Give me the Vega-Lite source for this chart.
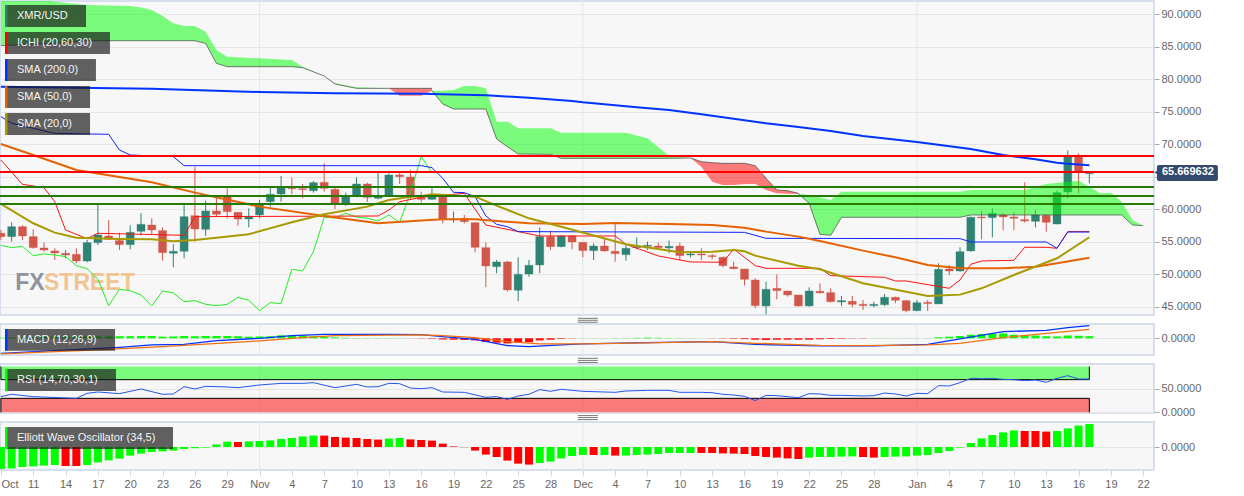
{"$schema":"https://vega.github.io/schema/vega-lite/v6.json","background":"white","padding":{"left":-4,"top":-1,"right":0,"bottom":0},"spacing":9,"bounds":"flush","config":{"font":"Liberation Sans","view":{"fill":"#f7f7f7","stroke":"#ccd6eb","strokeWidth":1.5},"axis":{"title":null,"domain":false,"gridColor":"#e6e6e6","gridWidth":1,"tickColor":"#aaaaaa","tickSize":5,"labelColor":"#666666","labelFontSize":11,"labelPadding":2,"labelOverlap":false,"labelBound":false,"labelFlush":false},"axisX":{"grid":false},"axisY":{"orient":"right","grid":true}},
"datasets":{
"months":[{"date":"2019-11-01"},{"date":"2019-12-01"},{"date":"2020-01-01"}],
"candles":[
{"date":"2019-10-08","open":56.31,"high":56.82,"low":55.29,"close":55.8},
{"date":"2019-10-09","open":55.8,"high":58.0,"low":55.03,"close":57.33},
{"date":"2019-10-10","open":57.33,"high":57.54,"low":55.29,"close":55.9},
{"date":"2019-10-11","open":55.8,"high":56.92,"low":53.96,"close":54.11},
{"date":"2019-10-12","open":54.06,"high":54.88,"low":53.49,"close":53.75},
{"date":"2019-10-13","open":53.6,"high":54.01,"low":52.21,"close":53.29},
{"date":"2019-10-14","open":53.24,"high":53.75,"low":52.47,"close":52.98},
{"date":"2019-10-15","open":53.08,"high":54.01,"low":51.7,"close":52.06},
{"date":"2019-10-16","open":52.06,"high":55.29,"low":51.86,"close":54.88},
{"date":"2019-10-17","open":54.88,"high":60.77,"low":54.52,"close":56.05},
{"date":"2019-10-18","open":55.9,"high":58.36,"low":55.29,"close":55.39},
{"date":"2019-10-19","open":55.19,"high":56.41,"low":53.75,"close":54.57},
{"date":"2019-10-20","open":54.57,"high":57.54,"low":53.85,"close":56.46},
{"date":"2019-10-21","open":56.62,"high":59.38,"low":56.0,"close":57.69},
{"date":"2019-10-22","open":57.59,"high":58.61,"low":56.21,"close":56.82},
{"date":"2019-10-23","open":56.72,"high":57.23,"low":52.11,"close":53.34},
{"date":"2019-10-24","open":53.24,"high":54.62,"low":51.09,"close":53.55},
{"date":"2019-10-25","open":53.55,"high":60.66,"low":52.47,"close":58.87},
{"date":"2019-10-26","open":59.02,"high":66.55,"low":55.03,"close":56.97},
{"date":"2019-10-27","open":56.92,"high":61.33,"low":55.9,"close":59.74},
{"date":"2019-10-28","open":59.74,"high":61.94,"low":58.87,"close":59.23},
{"date":"2019-10-29","open":61.94,"high":63.22,"low":58.61,"close":59.64},
{"date":"2019-10-30","open":59.54,"high":59.54,"low":57.49,"close":58.51},
{"date":"2019-10-31","open":58.51,"high":60.15,"low":57.23,"close":58.92},
{"date":"2019-11-01","open":59.13,"high":61.43,"low":58.61,"close":60.66},
{"date":"2019-11-02","open":61.17,"high":63.48,"low":60.41,"close":62.3},
{"date":"2019-11-03","open":62.35,"high":65.12,"low":61.17,"close":63.48},
{"date":"2019-11-04","open":63.32,"high":64.86,"low":62.3,"close":63.17},
{"date":"2019-11-05","open":63.17,"high":63.89,"low":61.69,"close":63.02},
{"date":"2019-11-06","open":62.86,"high":64.35,"low":62.56,"close":64.09},
{"date":"2019-11-07","open":64.14,"high":67.06,"low":62.71,"close":63.22},
{"date":"2019-11-08","open":63.07,"high":63.48,"low":60.05,"close":60.92},
{"date":"2019-11-09","open":60.92,"high":62.56,"low":60.56,"close":61.94},
{"date":"2019-11-10","open":62.1,"high":64.91,"low":61.84,"close":63.89},
{"date":"2019-11-11","open":63.89,"high":64.09,"low":61.12,"close":61.84},
{"date":"2019-11-12","open":61.69,"high":65.63,"low":61.53,"close":61.94},
{"date":"2019-11-13","open":62.15,"high":65.53,"low":61.94,"close":65.27},
{"date":"2019-11-14","open":65.27,"high":65.68,"low":63.89,"close":65.01},
{"date":"2019-11-15","open":64.96,"high":66.04,"low":61.43,"close":61.94},
{"date":"2019-11-16","open":61.79,"high":62.71,"low":61.07,"close":61.53},
{"date":"2019-11-17","open":61.53,"high":63.22,"low":61.43,"close":61.94},
{"date":"2019-11-18","open":61.94,"high":61.94,"low":57.85,"close":58.46},
{"date":"2019-11-19","open":58.36,"high":59.64,"low":57.95,"close":58.51},
{"date":"2019-11-20","open":58.61,"high":59.13,"low":57.85,"close":58.1},
{"date":"2019-11-21","open":57.95,"high":57.95,"low":53.39,"close":54.16},
{"date":"2019-11-22","open":54.11,"high":54.93,"low":48.02,"close":51.29},
{"date":"2019-11-23","open":51.19,"high":52.21,"low":50.17,"close":51.91},
{"date":"2019-11-24","open":51.91,"high":52.06,"low":47.35,"close":47.61},
{"date":"2019-11-25","open":47.56,"high":52.62,"low":45.87,"close":50.01},
{"date":"2019-11-26","open":50.06,"high":52.21,"low":49.65,"close":51.39},
{"date":"2019-11-27","open":51.45,"high":57.23,"low":50.17,"close":55.8},
{"date":"2019-11-28","open":55.8,"high":56.72,"low":53.75,"close":54.26},
{"date":"2019-11-29","open":54.26,"high":56.05,"low":54.16,"close":55.9},
{"date":"2019-11-30","open":55.9,"high":56.05,"low":53.85,"close":54.98},
{"date":"2019-12-01","open":54.93,"high":54.93,"low":52.62,"close":53.65},
{"date":"2019-12-02","open":53.65,"high":54.77,"low":52.21,"close":54.36},
{"date":"2019-12-03","open":54.36,"high":55.54,"low":53.49,"close":53.6},
{"date":"2019-12-04","open":53.55,"high":57.85,"low":51.96,"close":53.19},
{"date":"2019-12-05","open":53.03,"high":54.52,"low":52.11,"close":54.01},
{"date":"2019-12-06","open":54.11,"high":55.7,"low":53.85,"close":54.26},
{"date":"2019-12-07","open":54.31,"high":55.03,"low":53.75,"close":54.47},
{"date":"2019-12-08","open":54.36,"high":54.88,"low":53.75,"close":54.11},
{"date":"2019-12-09","open":54.06,"high":55.19,"low":53.24,"close":54.31},
{"date":"2019-12-10","open":54.36,"high":54.88,"low":52.21,"close":52.88},
{"date":"2019-12-11","open":52.98,"high":53.49,"low":52.62,"close":53.14},
{"date":"2019-12-12","open":53.14,"high":54.01,"low":52.21,"close":52.98},
{"date":"2019-12-13","open":52.88,"high":53.14,"low":52.32,"close":52.73},
{"date":"2019-12-14","open":52.62,"high":52.73,"low":51.09,"close":51.34},
{"date":"2019-12-15","open":51.14,"high":51.96,"low":50.78,"close":50.88},
{"date":"2019-12-16","open":50.83,"high":50.83,"low":48.32,"close":49.24},
{"date":"2019-12-17","open":49.14,"high":49.4,"low":44.79,"close":45.2},
{"date":"2019-12-18","open":45.15,"high":48.89,"low":43.87,"close":47.71},
{"date":"2019-12-19","open":47.86,"high":50.01,"low":46.17,"close":47.5},
{"date":"2019-12-20","open":47.45,"high":47.45,"low":46.58,"close":46.84},
{"date":"2019-12-21","open":46.84,"high":46.84,"low":45.05,"close":45.15},
{"date":"2019-12-22","open":45.15,"high":48.02,"low":45.05,"close":47.45},
{"date":"2019-12-23","open":47.4,"high":48.63,"low":47.09,"close":47.15},
{"date":"2019-12-24","open":47.2,"high":47.86,"low":45.66,"close":45.81},
{"date":"2019-12-25","open":45.76,"high":46.68,"low":45.15,"close":45.97},
{"date":"2019-12-26","open":45.87,"high":46.68,"low":44.94,"close":45.4},
{"date":"2019-12-27","open":45.4,"high":46.07,"low":44.53,"close":45.2},
{"date":"2019-12-28","open":45.2,"high":45.81,"low":44.94,"close":45.4},
{"date":"2019-12-29","open":45.35,"high":46.99,"low":45.15,"close":46.48},
{"date":"2019-12-30","open":46.48,"high":46.58,"low":45.56,"close":46.02},
{"date":"2019-12-31","open":45.97,"high":46.07,"low":44.18,"close":44.43},
{"date":"2020-01-01","open":44.43,"high":46.07,"low":44.33,"close":45.66},
{"date":"2020-01-02","open":45.71,"high":46.07,"low":44.38,"close":45.51},
{"date":"2020-01-03","open":45.46,"high":51.7,"low":45.46,"close":50.78},
{"date":"2020-01-04","open":50.83,"high":51.45,"low":49.86,"close":50.52},
{"date":"2020-01-05","open":50.52,"high":54.16,"low":50.42,"close":53.49},
{"date":"2020-01-06","open":53.6,"high":58.87,"low":53.49,"close":58.77},
{"date":"2020-01-07","open":58.82,"high":59.79,"low":55.39,"close":58.67},
{"date":"2020-01-08","open":58.72,"high":60.15,"low":55.7,"close":59.38},
{"date":"2020-01-09","open":59.13,"high":59.38,"low":56.82,"close":58.82},
{"date":"2020-01-10","open":58.82,"high":59.59,"low":56.82,"close":58.62},
{"date":"2020-01-11","open":58.41,"high":64.14,"low":57.95,"close":58.2},
{"date":"2020-01-12","open":58.15,"high":59.89,"low":57.23,"close":59.13},
{"date":"2020-01-13","open":59.08,"high":59.28,"low":56.57,"close":58.0},
{"date":"2020-01-14","open":57.74,"high":62.86,"low":57.69,"close":62.56},
{"date":"2020-01-15","open":62.66,"high":69.06,"low":61.69,"close":68.09},
{"date":"2020-01-16","open":68.19,"high":68.6,"low":62.45,"close":65.63},
{"date":"2020-01-17","open":65.47,"high":65.73,"low":63.99,"close":65.67}],
"kumo":[
{"date":"2019-10-08","spanA":93.5,"spanB":85.14,"kumo":"bull","segment":1},
{"date":"2019-10-13","spanA":91.89,"spanB":85.5,"kumo":"bull","segment":1},
{"date":"2019-10-16","spanA":91.38,"spanB":85.9,"kumo":"bull","segment":1},
{"date":"2019-10-20","spanA":91.23,"spanB":85.9,"kumo":"bull","segment":1},
{"date":"2019-10-21","spanA":91.02,"spanB":85.9,"kumo":"bull","segment":1},
{"date":"2019-10-22","spanA":90.61,"spanB":85.9,"kumo":"bull","segment":1},
{"date":"2019-10-23","spanA":89.69,"spanB":85.9,"kumo":"bull","segment":1},
{"date":"2019-10-24","spanA":88.57,"spanB":85.9,"kumo":"bull","segment":1},
{"date":"2019-10-25","spanA":88.16,"spanB":85.9,"kumo":"bull","segment":1},
{"date":"2019-10-26","spanA":88.16,"spanB":85.9,"kumo":"bull","segment":1},
{"date":"2019-10-27","spanA":87.29,"spanB":85.49,"kumo":"bull","segment":1},
{"date":"2019-10-28","spanA":84.47,"spanB":82.42,"kumo":"bull","segment":1},
{"date":"2019-10-29","spanA":83.45,"spanB":81.91,"kumo":"bull","segment":1},
{"date":"2019-11-04","spanA":82.93,"spanB":81.91,"kumo":"bull","segment":1},
{"date":"2019-11-05","spanA":81.9,"spanB":81.76,"kumo":"bull","segment":1},
{"date":"2019-11-07","spanA":80.48,"spanB":80.48,"kumo":"bull","segment":1},
{"date":"2019-11-08","spanA":79.35,"spanB":79.25,"kumo":"bull","segment":1},
{"date":"2019-11-10","spanA":78.74,"spanB":78.58,"kumo":"bull","segment":1},
{"date":"2019-11-13","spanA":78.58,"spanB":78.58,"kumo":"bull","segment":1},
{"date":"2019-11-13","spanA":78.58,"spanB":78.58,"kumo":"bear","segment":2},
{"date":"2019-11-14","spanA":77.46,"spanB":78.58,"kumo":"bear","segment":2},
{"date":"2019-11-16","spanA":77.46,"spanB":78.58,"kumo":"bear","segment":2},
{"date":"2019-11-17","spanA":78.22,"spanB":78.58,"kumo":"bear","segment":2},
{"date":"2019-11-17","spanA":78.22,"spanB":78.22,"kumo":"bull","segment":3},
{"date":"2019-11-18","spanA":78.22,"spanB":76.18,"kumo":"bull","segment":3},
{"date":"2019-11-19","spanA":78.33,"spanB":75.41,"kumo":"bull","segment":3},
{"date":"2019-11-20","spanA":78.94,"spanB":75.41,"kumo":"bull","segment":3},
{"date":"2019-11-21","spanA":78.94,"spanB":75.41,"kumo":"bull","segment":3},
{"date":"2019-11-22","spanA":78.58,"spanB":75.41,"kumo":"bull","segment":3},
{"date":"2019-11-23","spanA":73.46,"spanB":70.8,"kumo":"bull","segment":3},
{"date":"2019-11-24","spanA":73.46,"spanB":69.62,"kumo":"bull","segment":3},
{"date":"2019-11-25","spanA":72.44,"spanB":68.5,"kumo":"bull","segment":3},
{"date":"2019-11-28","spanA":72.44,"spanB":68.44,"kumo":"bull","segment":3},
{"date":"2019-11-29","spanA":71.77,"spanB":67.83,"kumo":"bull","segment":3},
{"date":"2019-12-05","spanA":71.77,"spanB":67.83,"kumo":"bull","segment":3},
{"date":"2019-12-07","spanA":70.9,"spanB":67.83,"kumo":"bull","segment":3},
{"date":"2019-12-09","spanA":68.19,"spanB":67.83,"kumo":"bull","segment":3},
{"date":"2019-12-11","spanA":67.88,"spanB":67.88,"kumo":"bull","segment":3},
{"date":"2019-12-11","spanA":67.88,"spanB":67.88,"kumo":"bear","segment":4},
{"date":"2019-12-12","spanA":66.55,"spanB":67.32,"kumo":"bear","segment":4},
{"date":"2019-12-13","spanA":64.24,"spanB":67.16,"kumo":"bear","segment":4},
{"date":"2019-12-14","spanA":63.73,"spanB":67.06,"kumo":"bear","segment":4},
{"date":"2019-12-15","spanA":63.73,"spanB":67.06,"kumo":"bear","segment":4},
{"date":"2019-12-16","spanA":63.89,"spanB":67.06,"kumo":"bear","segment":4},
{"date":"2019-12-17","spanA":63.89,"spanB":66.7,"kumo":"bear","segment":4},
{"date":"2019-12-18","spanA":62.97,"spanB":64.76,"kumo":"bear","segment":4},
{"date":"2019-12-19","spanA":62.45,"spanB":62.97,"kumo":"bear","segment":4},
{"date":"2019-12-20","spanA":62.4,"spanB":62.86,"kumo":"bear","segment":4},
{"date":"2019-12-21","spanA":62.35,"spanB":62.45,"kumo":"bear","segment":4},
{"date":"2019-12-21","spanA":62.4,"spanB":62.4,"kumo":"bull","segment":5},
{"date":"2019-12-22","spanA":62.2,"spanB":60.92,"kumo":"bull","segment":5},
{"date":"2019-12-23","spanA":61.84,"spanB":56.16,"kumo":"bull","segment":5},
{"date":"2019-12-24","spanA":61.43,"spanB":56.0,"kumo":"bull","segment":5},
{"date":"2019-12-25","spanA":62.71,"spanB":58.77,"kumo":"bull","segment":5},
{"date":"2020-01-05","spanA":62.71,"spanB":58.77,"kumo":"bull","segment":5},
{"date":"2020-01-06","spanA":62.97,"spanB":59.13,"kumo":"bull","segment":5},
{"date":"2020-01-11","spanA":62.97,"spanB":59.13,"kumo":"bull","segment":5},
{"date":"2020-01-13","spanA":63.89,"spanB":59.13,"kumo":"bull","segment":5},
{"date":"2020-01-15","spanA":64.25,"spanB":59.13,"kumo":"bull","segment":5},
{"date":"2020-01-16","spanA":64.4,"spanB":59.13,"kumo":"bull","segment":5},
{"date":"2020-01-17","spanA":63.48,"spanB":59.13,"kumo":"bull","segment":5},
{"date":"2020-01-18","spanA":62.45,"spanB":59.13,"kumo":"bull","segment":5},
{"date":"2020-01-19","spanA":62.56,"spanB":59.13,"kumo":"bull","segment":5},
{"date":"2020-01-20","spanA":61.17,"spanB":59.13,"kumo":"bull","segment":5},
{"date":"2020-01-21","spanA":58.36,"spanB":57.59,"kumo":"bull","segment":5},
{"date":"2020-01-22","spanA":57.49,"spanB":57.49,"kumo":"bull","segment":5}],
"sma200":[{"date":"2019-10-08","value":78.84},{"date":"2019-10-22","value":78.53},{"date":"2019-11-01","value":78.02},{"date":"2019-11-08","value":77.81},{"date":"2019-11-16","value":77.76},{"date":"2019-11-22","value":77.51},{"date":"2019-11-26","value":77.15},{"date":"2019-11-30","value":76.64},{"date":"2019-12-01","value":76.43},{"date":"2019-12-06","value":75.66},{"date":"2019-12-09","value":75.25},{"date":"2019-12-12","value":74.59},{"date":"2019-12-15","value":73.92},{"date":"2019-12-18","value":73.21},{"date":"2019-12-21","value":72.64},{"date":"2019-12-24","value":72.03},{"date":"2019-12-27","value":71.26},{"date":"2020-01-01","value":70.34},{"date":"2020-01-06","value":69.26},{"date":"2020-01-09","value":68.34},{"date":"2020-01-12","value":67.68},{"date":"2020-01-14","value":67.16},{"date":"2020-01-15","value":67.01},{"date":"2020-01-17","value":66.75}],
"sma50":[{"date":"2019-10-08","value":70.03},{"date":"2019-10-11","value":68.34},{"date":"2019-10-15","value":66.04},{"date":"2019-10-22","value":64.14},{"date":"2019-10-26","value":62.56},{"date":"2019-11-01","value":60.41},{"date":"2019-11-07","value":58.97},{"date":"2019-11-12","value":57.85},{"date":"2019-11-16","value":58.26},{"date":"2019-11-18","value":58.46},{"date":"2019-11-21","value":58.46},{"date":"2019-11-26","value":57.85},{"date":"2019-12-01","value":57.74},{"date":"2019-12-04","value":57.9},{"date":"2019-12-09","value":57.74},{"date":"2019-12-13","value":57.59},{"date":"2019-12-16","value":57.18},{"date":"2019-12-18","value":56.57},{"date":"2019-12-21","value":55.8},{"date":"2019-12-23","value":55.13},{"date":"2019-12-27","value":53.65},{"date":"2019-12-30","value":52.62},{"date":"2020-01-02","value":51.45},{"date":"2020-01-05","value":50.93},{"date":"2020-01-09","value":50.93},{"date":"2020-01-12","value":51.19},{"date":"2020-01-14","value":51.7},{"date":"2020-01-17","value":52.57}],
"sma20":[{"date":"2019-10-08","value":60.82},{"date":"2019-10-11","value":57.85},{"date":"2019-10-13","value":56.41},{"date":"2019-10-15","value":55.64},{"date":"2019-10-19","value":55.44},{"date":"2019-10-22","value":55.39},{"date":"2019-10-24","value":55.08},{"date":"2019-10-26","value":55.29},{"date":"2019-10-28","value":55.64},{"date":"2019-10-31","value":56.16},{"date":"2019-11-04","value":58.0},{"date":"2019-11-07","value":59.23},{"date":"2019-11-11","value":60.41},{"date":"2019-11-13","value":61.43},{"date":"2019-11-15","value":61.94},{"date":"2019-11-16","value":61.99},{"date":"2019-11-17","value":62.3},{"date":"2019-11-21","value":61.94},{"date":"2019-11-23","value":60.56},{"date":"2019-11-26","value":58.61},{"date":"2019-11-29","value":57.33},{"date":"2019-12-05","value":54.62},{"date":"2019-12-10","value":53.39},{"date":"2019-12-13","value":53.49},{"date":"2019-12-15","value":53.75},{"date":"2019-12-16","value":53.55},{"date":"2019-12-17","value":52.88},{"date":"2019-12-21","value":51.34},{"date":"2019-12-23","value":50.78},{"date":"2019-12-27","value":48.63},{"date":"2020-01-02","value":46.68},{"date":"2020-01-05","value":46.89},{"date":"2020-01-07","value":47.86},{"date":"2020-01-10","value":49.91},{"date":"2020-01-14","value":52.47},{"date":"2020-01-17","value":55.7}],
"kijun":[{"date":"2019-10-08","value":74.23},{"date":"2019-10-09","value":73.21},{"date":"2019-10-13","value":71.67},{"date":"2019-10-18","value":71.52},{"date":"2019-10-19","value":69.11},{"date":"2019-10-20","value":68.34},{"date":"2019-10-24","value":68.09},{"date":"2019-10-25","value":66.7},{"date":"2019-11-16","value":66.7},{"date":"2019-11-17","value":66.4},{"date":"2019-11-18","value":64.76},{"date":"2019-11-19","value":62.61},{"date":"2019-11-20","value":62.56},{"date":"2019-11-21","value":61.94},{"date":"2019-11-22","value":58.97},{"date":"2019-11-23","value":57.69},{"date":"2019-11-24","value":57.33},{"date":"2019-11-25","value":56.57},{"date":"2019-12-16","value":56.46},{"date":"2019-12-18","value":55.54},{"date":"2020-01-05","value":55.49},{"date":"2020-01-06","value":54.98},{"date":"2020-01-13","value":54.98},{"date":"2020-01-14","value":54.01},{"date":"2020-01-15","value":56.51},{"date":"2020-01-17","value":56.51}],
"tenkan":[{"date":"2019-10-08","value":67.57},{"date":"2019-10-10","value":63.84},{"date":"2019-10-12","value":63.32},{"date":"2019-10-13","value":61.17},{"date":"2019-10-14","value":56.82},{"date":"2019-10-16","value":55.49},{"date":"2019-10-17","value":56.31},{"date":"2019-10-21","value":56.16},{"date":"2019-10-25","value":56.0},{"date":"2019-10-26","value":58.87},{"date":"2019-11-12","value":58.97},{"date":"2019-11-13","value":59.89},{"date":"2019-11-14","value":61.17},{"date":"2019-11-16","value":61.84},{"date":"2019-11-20","value":62.45},{"date":"2019-11-22","value":57.59},{"date":"2019-11-25","value":56.57},{"date":"2019-11-27","value":55.9},{"date":"2019-12-04","value":55.9},{"date":"2019-12-05","value":54.62},{"date":"2019-12-08","value":52.83},{"date":"2019-12-11","value":51.91},{"date":"2019-12-14","value":51.86},{"date":"2019-12-15","value":53.9},{"date":"2019-12-17","value":51.34},{"date":"2019-12-18","value":50.93},{"date":"2019-12-23","value":50.93},{"date":"2019-12-24","value":49.81},{"date":"2019-12-29","value":49.55},{"date":"2019-12-30","value":48.99},{"date":"2019-12-31","value":48.99},{"date":"2020-01-04","value":47.86},{"date":"2020-01-05","value":49.14},{"date":"2020-01-06","value":51.55},{"date":"2020-01-07","value":52.06},{"date":"2020-01-10","value":52.16},{"date":"2020-01-11","value":54.16},{"date":"2020-01-13","value":54.16},{"date":"2020-01-14","value":54.01},{"date":"2020-01-15","value":56.57},{"date":"2020-01-17","value":56.57}],
"chikou":[{"date":"2019-10-08","value":54.47},{"date":"2019-10-09","value":54.11},{"date":"2019-10-10","value":54.31},{"date":"2019-10-11","value":52.88},{"date":"2019-10-12","value":53.14},{"date":"2019-10-13","value":52.98},{"date":"2019-10-14","value":52.73},{"date":"2019-10-15","value":51.34},{"date":"2019-10-16","value":50.88},{"date":"2019-10-17","value":49.24},{"date":"2019-10-18","value":45.2},{"date":"2019-10-19","value":47.71},{"date":"2019-10-20","value":47.5},{"date":"2019-10-21","value":46.84},{"date":"2019-10-22","value":45.15},{"date":"2019-10-23","value":47.45},{"date":"2019-10-24","value":47.15},{"date":"2019-10-25","value":45.81},{"date":"2019-10-26","value":45.97},{"date":"2019-10-27","value":45.4},{"date":"2019-10-28","value":45.2},{"date":"2019-10-29","value":45.4},{"date":"2019-10-30","value":46.48},{"date":"2019-10-31","value":46.02},{"date":"2019-11-01","value":44.43},{"date":"2019-11-02","value":45.66},{"date":"2019-11-03","value":45.51},{"date":"2019-11-04","value":50.78},{"date":"2019-11-05","value":50.52},{"date":"2019-11-06","value":53.49},{"date":"2019-11-07","value":58.77},{"date":"2019-11-08","value":58.67},{"date":"2019-11-09","value":59.38},{"date":"2019-11-10","value":58.82},{"date":"2019-11-11","value":58.62},{"date":"2019-11-12","value":58.2},{"date":"2019-11-13","value":59.13},{"date":"2019-11-14","value":58.0},{"date":"2019-11-15","value":62.56},{"date":"2019-11-16","value":68.09},{"date":"2019-11-17","value":65.63},{"date":"2019-11-18","value":65.67}],
"levels":[{"level":68.2,"kind":"resistance"},{"level":65.73,"kind":"resistance"},{"level":63.43,"kind":"support"},{"level":62.05,"kind":"support"},{"level":60.81,"kind":"support"}],
"labelsMain":[{"name":"XMR/USD","start":"2019-10-08T09:07:00Z","stripEnd":"2019-10-08T14:38:00Z","end":"2019-10-15T21:36:00Z","top":91.38,"bottom":88.0},{"name":"ICHI (20,60,30)","start":"2019-10-08T09:07:00Z","stripEnd":"2019-10-08T14:38:00Z","end":"2019-10-18T02:53:00Z","top":87.24,"bottom":83.86},{"name":"SMA (200,0)","start":"2019-10-08T09:07:00Z","stripEnd":"2019-10-08T14:38:00Z","end":"2019-10-16T19:41:00Z","top":83.09,"bottom":79.71},{"name":"SMA (50,0)","start":"2019-10-08T09:07:00Z","stripEnd":"2019-10-08T14:38:00Z","end":"2019-10-16T06:29:00Z","top":78.94,"bottom":75.56},{"name":"SMA (20,0)","start":"2019-10-08T09:07:00Z","stripEnd":"2019-10-08T14:38:00Z","end":"2019-10-16T06:29:00Z","top":74.79,"bottom":71.41}],
"labelsMacd":[{"name":"MACD (12,26,9)","start":"2019-10-08T09:07:00Z","stripEnd":"2019-10-08T14:38:00Z","end":"2019-10-18T14:10:00Z","top":4.04,"bottom":-5.39}],
"labelsRsi":[{"name":"RSI (14,70,30,1)","start":"2019-10-08T09:07:00Z","stripEnd":"2019-10-08T14:38:00Z","end":"2019-10-18T16:19:00Z","top":92.86,"bottom":45.71}],
"labelsEwo":[{"name":"Elliott Wave Oscillator (34,5)","start":"2019-10-08T09:07:00Z","stripEnd":"2019-10-08T14:38:00Z","end":"2019-10-23T23:17:00Z","top":10,"bottom":-1}],
"watermark":[{"word":"FX","date":"2019-10-09T08:00:00Z","level":47.6},{"word":"STREET","date":"2019-10-12T00:00:00Z","level":47.6}],
"lastPrice":[{"from":"2020-01-23T06:30:00Z","to":"2020-01-28T22:19:00Z","top":66.8,"bottom":64.35,"price":65.669632}],
"macdLine":[{"date":"2019-10-08","value":-6.52},{"date":"2019-10-19","value":-3.91},{"date":"2019-10-22","value":-2.9},{"date":"2019-10-25","value":-2.61},{"date":"2019-10-28","value":-1.01},{"date":"2019-11-01","value":0},{"date":"2019-11-04","value":1.16},{"date":"2019-11-07","value":1.74},{"date":"2019-11-13","value":1.74},{"date":"2019-11-16","value":1.59},{"date":"2019-11-18","value":0.72},{"date":"2019-11-21","value":-0.43},{"date":"2019-11-24","value":-3.19},{"date":"2019-11-26","value":-3.62},{"date":"2019-11-29","value":-2.9},{"date":"2019-12-01","value":-2.46},{"date":"2019-12-07","value":-1.88},{"date":"2019-12-13","value":-1.45},{"date":"2019-12-17","value":-2.61},{"date":"2019-12-23","value":-3.33},{"date":"2019-12-28","value":-3.33},{"date":"2020-01-02","value":-2.61},{"date":"2020-01-05","value":-0.29},{"date":"2020-01-09","value":2.9},{"date":"2020-01-13","value":3.48},{"date":"2020-01-15","value":4.64},{"date":"2020-01-17","value":5.51}],
"macdSignal":[{"date":"2019-10-08","value":-6.81},{"date":"2019-10-17","value":-5.07},{"date":"2019-10-23","value":-3.62},{"date":"2019-11-01","value":-1.16},{"date":"2019-11-05","value":0.29},{"date":"2019-11-08","value":1.16},{"date":"2019-11-16","value":1.45},{"date":"2019-11-18","value":1.16},{"date":"2019-11-21","value":0.29},{"date":"2019-11-24","value":-1.45},{"date":"2019-11-27","value":-2.46},{"date":"2019-12-01","value":-2.46},{"date":"2019-12-07","value":-2.03},{"date":"2019-12-13","value":-1.45},{"date":"2019-12-17","value":-2.17},{"date":"2019-12-23","value":-3.04},{"date":"2019-12-27","value":-3.19},{"date":"2020-01-02","value":-2.9},{"date":"2020-01-05","value":-2.17},{"date":"2020-01-09","value":0.29},{"date":"2020-01-13","value":2.17},{"date":"2020-01-17","value":3.91}],
"macdHist":[{"date":"2019-10-08","value":0.2},{"date":"2019-10-09","value":0.3},{"date":"2019-10-10","value":0.4},{"date":"2019-10-11","value":0.5},{"date":"2019-10-12","value":0.6},{"date":"2019-10-13","value":0.7},{"date":"2019-10-14","value":0.7},{"date":"2019-10-15","value":0.8},{"date":"2019-10-16","value":0.8},{"date":"2019-10-17","value":0.8},{"date":"2019-10-18","value":0.8},{"date":"2019-10-19","value":0.9},{"date":"2019-10-20","value":0.9},{"date":"2019-10-21","value":1.0},{"date":"2019-10-22","value":1.0},{"date":"2019-10-23","value":0.7},{"date":"2019-10-24","value":0.8},{"date":"2019-10-25","value":1.0},{"date":"2019-10-26","value":0.9},{"date":"2019-10-27","value":1.0},{"date":"2019-10-28","value":1.0},{"date":"2019-10-29","value":1.0},{"date":"2019-10-30","value":0.9},{"date":"2019-10-31","value":0.7},{"date":"2019-11-01","value":0.8},{"date":"2019-11-02","value":0.9},{"date":"2019-11-03","value":1.3},{"date":"2019-11-04","value":1.2},{"date":"2019-11-05","value":1.2},{"date":"2019-11-06","value":0.8},{"date":"2019-11-07","value":0.6},{"date":"2019-11-08","value":0.4},{"date":"2019-11-09","value":0.2},{"date":"2019-11-10","value":0.15},{"date":"2019-11-11","value":0.1},{"date":"2019-11-12","value":0.1},{"date":"2019-11-13","value":0.1},{"date":"2019-11-14","value":0.05},{"date":"2019-11-15","value":-0.05},{"date":"2019-11-16","value":-0.1},{"date":"2019-11-17","value":-0.2},{"date":"2019-11-18","value":-0.5},{"date":"2019-11-19","value":-0.6},{"date":"2019-11-20","value":-0.7},{"date":"2019-11-21","value":-0.9},{"date":"2019-11-22","value":-1.6},{"date":"2019-11-23","value":-1.9},{"date":"2019-11-24","value":-2.2},{"date":"2019-11-25","value":-2.0},{"date":"2019-11-26","value":-1.7},{"date":"2019-11-27","value":-0.9},{"date":"2019-11-28","value":-0.6},{"date":"2019-11-29","value":-0.25},{"date":"2019-11-30","value":-0.1},{"date":"2019-12-01","value":0.05},{"date":"2019-12-02","value":0.05},{"date":"2019-12-03","value":0.05},{"date":"2019-12-04","value":0.1},{"date":"2019-12-05","value":0.1},{"date":"2019-12-06","value":0.2},{"date":"2019-12-07","value":0.3},{"date":"2019-12-08","value":0.2},{"date":"2019-12-09","value":0.15},{"date":"2019-12-10","value":0.1},{"date":"2019-12-11","value":0.05},{"date":"2019-12-12","value":0.02},{"date":"2019-12-13","value":-0.05},{"date":"2019-12-14","value":-0.1},{"date":"2019-12-15","value":-0.2},{"date":"2019-12-16","value":-0.35},{"date":"2019-12-17","value":-0.6},{"date":"2019-12-18","value":-0.7},{"date":"2019-12-19","value":-0.6},{"date":"2019-12-20","value":-0.6},{"date":"2019-12-21","value":-0.6},{"date":"2019-12-22","value":-0.6},{"date":"2019-12-23","value":-0.4},{"date":"2019-12-24","value":-0.3},{"date":"2019-12-25","value":-0.2},{"date":"2019-12-26","value":-0.1},{"date":"2019-12-27","value":-0.1},{"date":"2019-12-28","value":0.05},{"date":"2019-12-29","value":0.05},{"date":"2019-12-30","value":0.05},{"date":"2019-12-31","value":0.05},{"date":"2020-01-01","value":0.05},{"date":"2020-01-02","value":0.05},{"date":"2020-01-03","value":0.45},{"date":"2020-01-04","value":0.7},{"date":"2020-01-05","value":1.0},{"date":"2020-01-06","value":1.5},{"date":"2020-01-07","value":1.9},{"date":"2020-01-08","value":2.0},{"date":"2020-01-09","value":2.1},{"date":"2020-01-10","value":1.5},{"date":"2020-01-11","value":1.3},{"date":"2020-01-12","value":1.2},{"date":"2020-01-13","value":0.9},{"date":"2020-01-14","value":0.8},{"date":"2020-01-15","value":1.2},{"date":"2020-01-16","value":1.1},{"date":"2020-01-17","value":0.9}],
"rsiBands":[{"from":"2019-10-08","to":"2020-01-17","low":70,"high":98,"limit":70,"zone":"over"},{"from":"2019-10-08","to":"2020-01-17","low":0,"high":30,"limit":30,"zone":"under"}],
"rsi":[{"date":"2019-10-08","value":33.6},{"date":"2019-10-09","value":38.6},{"date":"2019-10-11","value":33.6},{"date":"2019-10-15","value":30},{"date":"2019-10-16","value":40.7},{"date":"2019-10-17","value":43.6},{"date":"2019-10-19","value":40},{"date":"2019-10-21","value":50},{"date":"2019-10-23","value":38.6},{"date":"2019-10-24","value":39.3},{"date":"2019-10-25","value":55},{"date":"2019-10-26","value":50},{"date":"2019-10-27","value":55.7},{"date":"2019-10-29","value":54.3},{"date":"2019-10-30","value":52.9},{"date":"2019-11-01","value":58.6},{"date":"2019-11-03","value":62.1},{"date":"2019-11-05","value":62.1},{"date":"2019-11-06","value":63.6},{"date":"2019-11-08","value":52.9},{"date":"2019-11-10","value":60},{"date":"2019-11-11","value":54.3},{"date":"2019-11-12","value":55},{"date":"2019-11-13","value":62.1},{"date":"2019-11-14","value":61.4},{"date":"2019-11-15","value":52.1},{"date":"2019-11-16","value":50.7},{"date":"2019-11-17","value":52.9},{"date":"2019-11-18","value":43.6},{"date":"2019-11-20","value":42.9},{"date":"2019-11-22","value":32.1},{"date":"2019-11-23","value":33.6},{"date":"2019-11-24","value":27.9},{"date":"2019-11-25","value":35},{"date":"2019-11-26","value":38.6},{"date":"2019-11-27","value":48.6},{"date":"2019-11-28","value":45},{"date":"2019-11-29","value":49.3},{"date":"2019-12-01","value":45},{"date":"2019-12-04","value":42.9},{"date":"2019-12-05","value":45.7},{"date":"2019-12-07","value":47.1},{"date":"2019-12-09","value":47.1},{"date":"2019-12-10","value":42.9},{"date":"2019-12-12","value":42.9},{"date":"2019-12-13","value":42.1},{"date":"2019-12-14","value":38.6},{"date":"2019-12-15","value":37.1},{"date":"2019-12-16","value":34.3},{"date":"2019-12-17","value":25},{"date":"2019-12-18","value":36.4},{"date":"2019-12-19","value":35.7},{"date":"2019-12-21","value":31.4},{"date":"2019-12-22","value":40},{"date":"2019-12-23","value":39.3},{"date":"2019-12-24","value":36.4},{"date":"2019-12-25","value":36.4},{"date":"2019-12-27","value":35},{"date":"2019-12-28","value":35.7},{"date":"2019-12-29","value":41.4},{"date":"2019-12-30","value":39.3},{"date":"2019-12-31","value":35},{"date":"2020-01-01","value":40.7},{"date":"2020-01-02","value":40},{"date":"2020-01-03","value":57.1},{"date":"2020-01-04","value":56.4},{"date":"2020-01-05","value":63.6},{"date":"2020-01-06","value":72.9},{"date":"2020-01-07","value":72.1},{"date":"2020-01-08","value":72.9},{"date":"2020-01-09","value":70.7},{"date":"2020-01-10","value":70},{"date":"2020-01-11","value":67.9},{"date":"2020-01-12","value":69.3},{"date":"2020-01-13","value":64.3},{"date":"2020-01-14","value":72.9},{"date":"2020-01-15","value":78.6},{"date":"2020-01-16","value":71.4},{"date":"2020-01-17","value":71.4}],
"ewo":[{"date":"2019-10-08","value":-11,"trend":"up"},{"date":"2019-10-09","value":-10.7,"trend":"up"},{"date":"2019-10-10","value":-10,"trend":"up"},{"date":"2019-10-11","value":-9.7,"trend":"up"},{"date":"2019-10-12","value":-9.3,"trend":"up"},{"date":"2019-10-13","value":-9,"trend":"up"},{"date":"2019-10-14","value":-9.5,"trend":"down"},{"date":"2019-10-15","value":-9.5,"trend":"down"},{"date":"2019-10-16","value":-9,"trend":"up"},{"date":"2019-10-17","value":-7.7,"trend":"up"},{"date":"2019-10-18","value":-6.7,"trend":"up"},{"date":"2019-10-19","value":-5.8,"trend":"up"},{"date":"2019-10-20","value":-4.3,"trend":"up"},{"date":"2019-10-21","value":-3.3,"trend":"up"},{"date":"2019-10-22","value":-2.5,"trend":"up"},{"date":"2019-10-23","value":-2.2,"trend":"up"},{"date":"2019-10-24","value":-1.8,"trend":"up"},{"date":"2019-10-25","value":-1,"trend":"up"},{"date":"2019-10-26","value":-0.6,"trend":"up"},{"date":"2019-10-27","value":-0.3,"trend":"up"},{"date":"2019-10-28","value":1.3,"trend":"up"},{"date":"2019-10-29","value":2.7,"trend":"up"},{"date":"2019-10-30","value":2.5,"trend":"down"},{"date":"2019-10-31","value":2.8,"trend":"up"},{"date":"2019-11-01","value":3,"trend":"up"},{"date":"2019-11-02","value":3.3,"trend":"up"},{"date":"2019-11-03","value":4,"trend":"up"},{"date":"2019-11-04","value":4.5,"trend":"up"},{"date":"2019-11-05","value":5.3,"trend":"up"},{"date":"2019-11-06","value":5.7,"trend":"up"},{"date":"2019-11-07","value":5.7,"trend":"down"},{"date":"2019-11-08","value":5,"trend":"down"},{"date":"2019-11-09","value":4.7,"trend":"down"},{"date":"2019-11-10","value":4.5,"trend":"down"},{"date":"2019-11-11","value":4,"trend":"down"},{"date":"2019-11-12","value":3.7,"trend":"down"},{"date":"2019-11-13","value":4.2,"trend":"up"},{"date":"2019-11-14","value":4.5,"trend":"up"},{"date":"2019-11-15","value":3.8,"trend":"down"},{"date":"2019-11-16","value":3.5,"trend":"down"},{"date":"2019-11-17","value":3.2,"trend":"down"},{"date":"2019-11-18","value":1.7,"trend":"down"},{"date":"2019-11-19","value":0.3,"trend":"down"},{"date":"2019-11-20","value":-0.1,"trend":"down"},{"date":"2019-11-21","value":-1.8,"trend":"down"},{"date":"2019-11-22","value":-3.8,"trend":"down"},{"date":"2019-11-23","value":-5,"trend":"down"},{"date":"2019-11-24","value":-6.8,"trend":"down"},{"date":"2019-11-25","value":-8.3,"trend":"down"},{"date":"2019-11-26","value":-8.8,"trend":"down"},{"date":"2019-11-27","value":-8,"trend":"up"},{"date":"2019-11-28","value":-7.3,"trend":"up"},{"date":"2019-11-29","value":-5.7,"trend":"up"},{"date":"2019-11-30","value":-4.5,"trend":"up"},{"date":"2019-12-01","value":-4,"trend":"up"},{"date":"2019-12-02","value":-4,"trend":"down"},{"date":"2019-12-03","value":-4,"trend":"up"},{"date":"2019-12-04","value":-4.3,"trend":"down"},{"date":"2019-12-05","value":-4.3,"trend":"up"},{"date":"2019-12-06","value":-4,"trend":"up"},{"date":"2019-12-07","value":-3.8,"trend":"up"},{"date":"2019-12-08","value":-3.5,"trend":"up"},{"date":"2019-12-09","value":-3,"trend":"up"},{"date":"2019-12-10","value":-3,"trend":"up"},{"date":"2019-12-11","value":-3,"trend":"up"},{"date":"2019-12-12","value":-3,"trend":"down"},{"date":"2019-12-13","value":-3,"trend":"down"},{"date":"2019-12-14","value":-3.2,"trend":"down"},{"date":"2019-12-15","value":-3.3,"trend":"down"},{"date":"2019-12-16","value":-3.5,"trend":"down"},{"date":"2019-12-17","value":-4.5,"trend":"down"},{"date":"2019-12-18","value":-5,"trend":"down"},{"date":"2019-12-19","value":-5.3,"trend":"down"},{"date":"2019-12-20","value":-5.7,"trend":"down"},{"date":"2019-12-21","value":-6,"trend":"down"},{"date":"2019-12-22","value":-5.3,"trend":"up"},{"date":"2019-12-23","value":-5,"trend":"up"},{"date":"2019-12-24","value":-5,"trend":"up"},{"date":"2019-12-25","value":-4.8,"trend":"up"},{"date":"2019-12-26","value":-4.7,"trend":"up"},{"date":"2019-12-27","value":-5,"trend":"down"},{"date":"2019-12-28","value":-5.3,"trend":"down"},{"date":"2019-12-29","value":-5,"trend":"up"},{"date":"2019-12-30","value":-4.8,"trend":"up"},{"date":"2019-12-31","value":-4.7,"trend":"up"},{"date":"2020-01-01","value":-4.3,"trend":"up"},{"date":"2020-01-02","value":-4,"trend":"up"},{"date":"2020-01-03","value":-3,"trend":"up"},{"date":"2020-01-04","value":-2,"trend":"up"},{"date":"2020-01-05","value":-0.3,"trend":"up"},{"date":"2020-01-06","value":2,"trend":"up"},{"date":"2020-01-07","value":4.3,"trend":"up"},{"date":"2020-01-08","value":6,"trend":"up"},{"date":"2020-01-09","value":7.3,"trend":"up"},{"date":"2020-01-10","value":8.3,"trend":"up"},{"date":"2020-01-11","value":8,"trend":"down"},{"date":"2020-01-12","value":8,"trend":"down"},{"date":"2020-01-13","value":7.7,"trend":"down"},{"date":"2020-01-14","value":8,"trend":"up"},{"date":"2020-01-15","value":9.3,"trend":"up"},{"date":"2020-01-16","value":10.7,"trend":"up"},{"date":"2020-01-17","value":11.5,"trend":"up"}],
"handle1":[{"from":"2019-11-30T12:43:00Z","to":"2019-12-02T09:21:00Z","level":43.25},{"from":"2019-11-30T12:43:00Z","to":"2019-12-02T09:21:00Z","level":42.95},{"from":"2019-11-30T12:43:00Z","to":"2019-12-02T09:21:00Z","level":42.65}],
"handle2":[{"from":"2019-11-30T12:43:00Z","to":"2019-12-02T09:21:00Z","level":-8.7},{"from":"2019-11-30T12:43:00Z","to":"2019-12-02T09:21:00Z","level":-9.6},{"from":"2019-11-30T12:43:00Z","to":"2019-12-02T09:21:00Z","level":-10.5}],
"handle3":[{"from":"2019-11-30T12:43:00Z","to":"2019-12-02T09:21:00Z","level":-7},{"from":"2019-11-30T12:43:00Z","to":"2019-12-02T09:21:00Z","level":-11.3},{"from":"2019-11-30T12:43:00Z","to":"2019-12-02T09:21:00Z","level":-15.6}]
},
"vconcat":[
{"width":1154,"height":314,"layer":[
{"data":{"name":"months"},"mark":{"type":"rule","color":"#e6e6e6","strokeWidth":1},"encoding":{"x":{"field":"date","type":"temporal","scale":{"type":"utc","domain":[1570485600000,1579737600000],"nice":false,"padding":0},"axis":null}}},
{"data":{"name":"watermark"},"mark":{"type":"text","fontWeight":"bold","fontSize":23,"align":"left","baseline":"alphabetic"},"encoding":{"x":{"field":"date","type":"temporal","axis":null},"y":{"field":"level","type":"quantitative"},"text":{"field":"word"},"color":{"field":"word","type":"nominal","scale":{"domain":["FX","STREET"],"range":["#8f939c","#f2c491"]},"legend":null}}},
{"data":{"name":"candles"},"mark":{"type":"rule","strokeWidth":1,"clip":true},"encoding":{"x":{"field":"date","type":"temporal","axis":null},"y":{"field":"low","type":"quantitative","scale":{"domain":[43.76,92],"nice":false,"zero":false},"axis":{"title":null,"orient":"right","values":[45,50,55,60,65,70,75,80,85,90],"tickCount":50,"format":".4f","grid":true,"labelOverlap":false}},"y2":{"field":"high"},"color":{"condition":{"test":"datum.close>=datum.open","value":"#2f8374"},"value":"#d1574a"}}},
{"data":{"name":"candles"},"mark":{"type":"bar","size":8,"orient":"vertical","clip":true,"strokeWidth":1,"strokeOpacity":0.35},"encoding":{"x":{"field":"date","type":"temporal","axis":null},"y":{"field":"open","type":"quantitative"},"y2":{"field":"close"},"color":{"condition":{"test":"datum.close>=datum.open","value":"#2f8374"},"value":"#d1574a"},"stroke":{"condition":{"test":"datum.close>=datum.open","value":"#2f8374"},"value":"#d1574a"}}},
{"data":{"name":"kumo"},"mark":{"type":"area","opacity":0.5,"clip":true,"interpolate":"linear"},"encoding":{"x":{"field":"date","type":"temporal","axis":null},"y":{"field":"spanA","type":"quantitative","stack":null},"y2":{"field":"spanB"},"detail":{"field":"segment"},"color":{"field":"kumo","type":"nominal","scale":{"domain":["bull","bear"],"range":["#00ff00","#ff0000"]},"legend":null}}},
{"data":{"name":"kumo"},"mark":{"type":"line","color":"#444444","strokeWidth":1,"opacity":0.7,"clip":true},"encoding":{"x":{"field":"date","type":"temporal","axis":null},"y":{"field":"spanB","type":"quantitative"},"detail":{"field":"segment"}}},
{"data":{"name":"chikou"},"mark":{"type":"line","color":"#22ee22","strokeWidth":1},"encoding":{"x":{"field":"date","type":"temporal","axis":null},"y":{"field":"value","type":"quantitative"}}},
{"data":{"name":"tenkan"},"mark":{"type":"line","color":"#ff1111","strokeWidth":1},"encoding":{"x":{"field":"date","type":"temporal","axis":null},"y":{"field":"value","type":"quantitative"}}},
{"data":{"name":"kijun"},"mark":{"type":"line","color":"#1122ff","strokeWidth":1},"encoding":{"x":{"field":"date","type":"temporal","axis":null},"y":{"field":"value","type":"quantitative"}}},
{"data":{"name":"sma200"},"mark":{"type":"line","color":"#0033ff","strokeWidth":2},"encoding":{"x":{"field":"date","type":"temporal","axis":null},"y":{"field":"value","type":"quantitative"}}},
{"data":{"name":"sma50"},"mark":{"type":"line","color":"#e66100","strokeWidth":2},"encoding":{"x":{"field":"date","type":"temporal","axis":null},"y":{"field":"value","type":"quantitative"}}},
{"data":{"name":"sma20"},"mark":{"type":"line","color":"#a89a00","strokeWidth":2},"encoding":{"x":{"field":"date","type":"temporal","axis":null},"y":{"field":"value","type":"quantitative"}}},
{"data":{"name":"levels"},"mark":{"type":"rule","strokeWidth":2},"encoding":{"y":{"field":"level","type":"quantitative"},"color":{"field":"kind","type":"nominal","scale":{"domain":["resistance","support"],"range":["#ff0000","#267a00"]},"legend":null}}},
{"data":{"name":"labelsMain"},"mark":{"type":"rect","color":"#171717","opacity":0.68},"encoding":{"x":{"field":"start","type":"temporal","axis":null},"x2":{"field":"end"},"y":{"field":"top","type":"quantitative"},"y2":{"field":"bottom"}}},
{"data":{"name":"labelsMain"},"mark":{"type":"rect"},"encoding":{"x":{"field":"start","type":"temporal","axis":null},"x2":{"field":"stripEnd"},"y":{"field":"top","type":"quantitative"},"y2":{"field":"bottom"},"color":{"field":"name","type":"nominal","scale":{"domain":["XMR/USD","ICHI (20,60,30)","SMA (200,0)","SMA (50,0)","SMA (20,0)"],"range":["#2f8374","#ff0000","#0033ff","#e66100","#a89a00"]},"legend":null}}},
{"data":{"name":"labelsMain"},"mark":{"type":"text","color":"#f4f4f4","fontSize":11,"align":"left","baseline":"middle","dx":12,"dy":11},"encoding":{"x":{"field":"start","type":"temporal","axis":null},"y":{"field":"top","type":"quantitative"},"text":{"field":"name"}}},
{"data":{"name":"lastPrice"},"mark":{"type":"point","shape":"triangle-left","filled":true,"size":35,"color":"#34496e","opacity":1},"encoding":{"x":{"field":"from","type":"temporal","axis":null},"y":{"field":"price","type":"quantitative"}}},
{"data":{"name":"lastPrice"},"mark":{"type":"rect","color":"#34496e","cornerRadius":2},"encoding":{"x":{"field":"from","type":"temporal","axis":null},"x2":{"field":"to"},"y":{"field":"top","type":"quantitative"},"y2":{"field":"bottom"}}},
{"data":{"name":"lastPrice"},"mark":{"type":"text","color":"#ffffff","fontSize":11,"fontWeight":"bold","align":"left","baseline":"middle","dx":5},"encoding":{"x":{"field":"from","type":"temporal","axis":null},"y":{"field":"price","type":"quantitative"},"text":{"field":"price","type":"quantitative","format":".6f"}}},
{"data":{"name":"handle1"},"mark":{"type":"rule","color":"#777777","strokeWidth":1},"encoding":{"x":{"field":"from","type":"temporal","axis":null},"x2":{"field":"to"},"y":{"field":"level","type":"quantitative"}}}
],"resolve":{"scale":{"color":"independent"}}},
{"width":1154,"height":31,"layer":[
{"data":{"name":"months"},"mark":{"type":"rule","color":"#e6e6e6","strokeWidth":1},"encoding":{"x":{"field":"date","type":"temporal","scale":{"type":"utc","domain":[1570485600000,1579737600000],"nice":false,"padding":0},"axis":null}}},
{"data":{"name":"macdHist"},"mark":{"type":"bar","size":8,"orient":"vertical","clip":true},"encoding":{"x":{"field":"date","type":"temporal","axis":null},"y":{"field":"value","type":"quantitative","stack":null,"scale":{"domain":[-7.26,6.22],"nice":false,"zero":false},"axis":{"title":null,"orient":"right","values":[0],"tickCount":50,"format":".4f","grid":true,"labelOverlap":false}},"color":{"condition":{"test":"datum.value>=0","value":"#00ff00"},"value":"#ff0000"}}},
{"data":{"name":"macdLine"},"mark":{"type":"line","color":"#0033ff","strokeWidth":1.3},"encoding":{"x":{"field":"date","type":"temporal","axis":null},"y":{"field":"value","type":"quantitative"}}},
{"data":{"name":"macdSignal"},"mark":{"type":"line","color":"#f07010","strokeWidth":1.3},"encoding":{"x":{"field":"date","type":"temporal","axis":null},"y":{"field":"value","type":"quantitative"}}},
{"data":{"name":"labelsMacd"},"mark":{"type":"rect","color":"#171717","opacity":0.68},"encoding":{"x":{"field":"start","type":"temporal","axis":null},"x2":{"field":"end"},"y":{"field":"top","type":"quantitative"},"y2":{"field":"bottom"}}},
{"data":{"name":"labelsMacd"},"mark":{"type":"rect","color":"#0033ff"},"encoding":{"x":{"field":"start","type":"temporal","axis":null},"x2":{"field":"stripEnd"},"y":{"field":"top","type":"quantitative"},"y2":{"field":"bottom"}}},
{"data":{"name":"labelsMacd"},"mark":{"type":"text","color":"#f4f4f4","fontSize":11,"align":"left","baseline":"middle","dx":12,"dy":11},"encoding":{"x":{"field":"start","type":"temporal","axis":null},"y":{"field":"top","type":"quantitative"},"text":{"field":"name"}}},
{"data":{"name":"handle2"},"mark":{"type":"rule","color":"#777777","strokeWidth":1},"encoding":{"x":{"field":"from","type":"temporal","axis":null},"x2":{"field":"to"},"y":{"field":"level","type":"quantitative"}}}
]},
{"width":1154,"height":49,"layer":[
{"data":{"name":"months"},"mark":{"type":"rule","color":"#e6e6e6","strokeWidth":1},"encoding":{"x":{"field":"date","type":"temporal","scale":{"type":"utc","domain":[1570485600000,1579737600000],"nice":false,"padding":0},"axis":null}}},
{"data":{"name":"rsiBands"},"mark":{"type":"rect","opacity":0.5},"encoding":{"x":{"field":"from","type":"temporal","axis":null},"x2":{"field":"to"},"y":{"field":"low","type":"quantitative","scale":{"domain":[-1.43,103.57],"nice":false,"zero":false},"axis":{"title":null,"orient":"right","values":[0,50],"tickCount":50,"format":".4f","grid":true,"labelOverlap":false}},"y2":{"field":"high"},"color":{"field":"zone","type":"nominal","scale":{"domain":["over","under"],"range":["#00ff00","#ff0000"]},"legend":null}}},
{"data":{"name":"rsiBands"},"mark":{"type":"rule","color":"#000000","strokeWidth":1},"encoding":{"x":{"field":"from","type":"temporal","axis":null},"x2":{"field":"to"},"y":{"field":"limit","type":"quantitative"}}},
{"data":{"name":"rsiBands"},"mark":{"type":"rule","color":"#000000","strokeWidth":1},"encoding":{"x":{"field":"from","type":"temporal","axis":null},"y":{"field":"low","type":"quantitative"},"y2":{"field":"high"}}},
{"data":{"name":"rsiBands"},"mark":{"type":"rule","color":"#000000","strokeWidth":1},"encoding":{"x":{"field":"to","type":"temporal","axis":null},"y":{"field":"low","type":"quantitative"},"y2":{"field":"high"}}},
{"data":{"name":"rsi"},"mark":{"type":"line","color":"#2255ee","strokeWidth":1},"encoding":{"x":{"field":"date","type":"temporal","axis":null},"y":{"field":"value","type":"quantitative"}}},
{"data":{"name":"labelsRsi"},"mark":{"type":"rect","color":"#171717","opacity":0.68},"encoding":{"x":{"field":"start","type":"temporal","axis":null},"x2":{"field":"end"},"y":{"field":"top","type":"quantitative"},"y2":{"field":"bottom"}}},
{"data":{"name":"labelsRsi"},"mark":{"type":"rect","color":"#00ff00"},"encoding":{"x":{"field":"start","type":"temporal","axis":null},"x2":{"field":"stripEnd"},"y":{"field":"top","type":"quantitative"},"y2":{"field":"bottom"}}},
{"data":{"name":"labelsRsi"},"mark":{"type":"text","color":"#f4f4f4","fontSize":11,"align":"left","baseline":"middle","dx":12,"dy":11},"encoding":{"x":{"field":"start","type":"temporal","axis":null},"y":{"field":"top","type":"quantitative"},"text":{"field":"name"}}},
{"data":{"name":"handle3"},"mark":{"type":"rule","color":"#777777","strokeWidth":1},"encoding":{"x":{"field":"from","type":"temporal","axis":null},"x2":{"field":"to"},"y":{"field":"level","type":"quantitative"}}}
]},
{"width":1154,"height":48,"layer":[
{"data":{"name":"months"},"mark":{"type":"rule","color":"#e6e6e6","strokeWidth":1},"encoding":{"x":{"field":"date","type":"temporal","scale":{"type":"utc","domain":[1570485600000,1579737600000],"nice":false,"padding":0},"axis":{"title":null,"tickCount":100,"values":[{"year":2019,"month":10,"date":8,"utc":true},{"year":2019,"month":10,"date":11,"utc":true},{"year":2019,"month":10,"date":14,"utc":true},{"year":2019,"month":10,"date":17,"utc":true},{"year":2019,"month":10,"date":20,"utc":true},{"year":2019,"month":10,"date":23,"utc":true},{"year":2019,"month":10,"date":26,"utc":true},{"year":2019,"month":10,"date":29,"utc":true},{"year":2019,"month":11,"date":1,"utc":true},{"year":2019,"month":11,"date":4,"utc":true},{"year":2019,"month":11,"date":7,"utc":true},{"year":2019,"month":11,"date":10,"utc":true},{"year":2019,"month":11,"date":13,"utc":true},{"year":2019,"month":11,"date":16,"utc":true},{"year":2019,"month":11,"date":19,"utc":true},{"year":2019,"month":11,"date":22,"utc":true},{"year":2019,"month":11,"date":25,"utc":true},{"year":2019,"month":11,"date":28,"utc":true},{"year":2019,"month":12,"date":1,"utc":true},{"year":2019,"month":12,"date":4,"utc":true},{"year":2019,"month":12,"date":7,"utc":true},{"year":2019,"month":12,"date":10,"utc":true},{"year":2019,"month":12,"date":13,"utc":true},{"year":2019,"month":12,"date":16,"utc":true},{"year":2019,"month":12,"date":19,"utc":true},{"year":2019,"month":12,"date":22,"utc":true},{"year":2019,"month":12,"date":25,"utc":true},{"year":2019,"month":12,"date":28,"utc":true},{"year":2020,"month":1,"date":1,"utc":true},{"year":2020,"month":1,"date":4,"utc":true},{"year":2020,"month":1,"date":7,"utc":true},{"year":2020,"month":1,"date":10,"utc":true},{"year":2020,"month":1,"date":13,"utc":true},{"year":2020,"month":1,"date":16,"utc":true},{"year":2020,"month":1,"date":19,"utc":true},{"year":2020,"month":1,"date":22,"utc":true}],"labelExpr":"utcmonth(datum.value)==9 && utcdate(datum.value)==8 ? 'Oct' : utcdate(datum.value)==1 ? utcFormat(datum.value,'%b') : ''+utcdate(datum.value)","labelFlush":1,"labelOverlap":false,"grid":false,"tickColor":"#ccd6eb","labelPadding":3}}}},
{"data":{"name":"ewo"},"mark":{"type":"bar","size":8,"orient":"vertical","clip":true},"encoding":{"x":{"field":"date","type":"temporal"},"y":{"field":"value","type":"quantitative","stack":null,"scale":{"domain":[-11.5,12.5],"nice":false,"zero":false},"axis":{"title":null,"orient":"right","values":[0],"tickCount":50,"format":".4f","grid":true,"labelOverlap":false}},"color":{"field":"trend","type":"nominal","scale":{"domain":["up","down"],"range":["#00ff00","#ff0000"]},"legend":null}}},
{"data":{"name":"labelsEwo"},"mark":{"type":"rect","color":"#171717","opacity":0.68},"encoding":{"x":{"field":"start","type":"temporal"},"x2":{"field":"end"},"y":{"field":"top","type":"quantitative"},"y2":{"field":"bottom"}}},
{"data":{"name":"labelsEwo"},"mark":{"type":"rect","color":"#00ff00"},"encoding":{"x":{"field":"start","type":"temporal"},"x2":{"field":"stripEnd"},"y":{"field":"top","type":"quantitative"},"y2":{"field":"bottom"}}},
{"data":{"name":"labelsEwo"},"mark":{"type":"text","color":"#f4f4f4","fontSize":11,"align":"left","baseline":"middle","dx":12,"dy":11},"encoding":{"x":{"field":"start","type":"temporal"},"y":{"field":"top","type":"quantitative"},"text":{"field":"name"}}}
]}
]}
